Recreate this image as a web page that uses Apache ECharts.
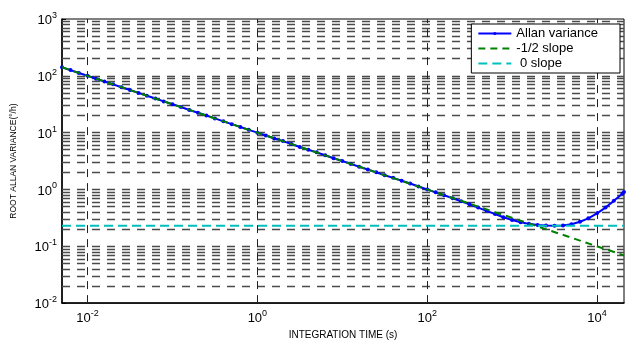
<!DOCTYPE html>
<html>
<head>
<meta charset="utf-8">
<script src="https://cdn.jsdelivr.net/npm/echarts@6/dist/echarts.min.js"></script>
<style>
  html, body { margin: 0; padding: 0; background: #fff; }
  #chart { width: 627px; height: 345px; }
</style>
</head>
<body>
<div id="chart"></div>
<script>
// Integration time (s) of each Allan variance estimate
const tauValues = [
  0.005, 0.0063, 0.0079, 0.01, 0.0126, 0.0158, 0.02, 0.0251, 0.0316, 0.0398,
  0.05, 0.063, 0.079, 0.1, 0.126, 0.158, 0.2, 0.251, 0.316, 0.398,
  0.5, 0.63, 0.79, 1, 1.26, 1.58, 2, 2.51, 3.16, 3.98,
  5, 6.3, 7.9, 10, 12.6, 15.8, 20, 25.1, 31.6, 39.8,
  50, 63, 79, 100, 126, 158, 200, 251, 316, 398,
  500, 630, 790, 1000, 1260, 1580, 2000, 2510, 3160, 3980,
  5000, 6300, 7900, 10000, 12600, 15800, 20000, 20800
];
// Root Allan variance (°/h)
const allanValues = [
  141, 126, 112, 100, 89, 79.4, 70.8, 63.1, 56.2, 50.1,
  44.7, 39.8, 35.5, 31.6, 28.2, 25.1, 22.4, 20.0, 17.8, 15.8,
  14.1, 12.6, 11.2, 10.0, 8.9, 7.9, 7.1, 6.3, 5.6, 5.0,
  4.5, 4.0, 3.55, 3.16, 2.82, 2.51, 2.24, 2.0, 1.78, 1.6,
  1.43, 1.27, 1.13, 1.0, 0.89, 0.79, 0.70, 0.62, 0.55, 0.48,
  0.42, 0.37, 0.325, 0.29, 0.265, 0.248, 0.238, 0.232, 0.230, 0.232,
  0.245, 0.27, 0.31, 0.38, 0.48, 0.63, 0.85, 0.9
];
// Reference slopes
const slopeTau = [0.005, 20800];
const halfSlopeValues = [141.4, 0.0693];
const zeroSlopeValues = [0.23, 0.23];

// Axis ticks and grid levels
const xTicks = [0.01, 1, 100, 10000];
const yMajor = [0.01, 0.1, 1, 10, 100, 1000];
const yMinor = [
  0.02, 0.03, 0.04, 0.05, 0.06, 0.07, 0.08, 0.09,
  0.2, 0.3, 0.4, 0.5, 0.6, 0.7, 0.8, 0.9,
  2, 3, 4, 5, 6, 7, 8, 9,
  20, 30, 40, 50, 60, 70, 80, 90,
  200, 300, 400, 500, 600, 700, 800, 900
];

const FONT = '"Liberation Sans", Arial, sans-serif';

function powerLabel(v) {
  const e = Math.round(Math.log10(v));
  return '{b|10}{s|' + e + '}';
}
const labelRich = {
  b: { fontSize: 13, fontFamily: FONT, color: '#000', verticalAlign: 'bottom', lineHeight: 16 },
  s: { fontSize: 9, fontFamily: FONT, color: '#000', verticalAlign: 'top', lineHeight: 10 }
};

const gridLineStyle = { color: '#4a4a4a', width: 1.4, type: [8, 7] };
const vLineStyle = { color: '#222', width: 1, type: [8, 6] };

const chart = echarts.init(document.getElementById('chart'), null, { renderer: 'canvas' });

chart.setOption({
  animation: false,
  backgroundColor: '#fff',
  grid: {
    left: 62, right: 3, top: 19, bottom: 33,
    show: true, borderColor: '#000', borderWidth: 1, backgroundColor: 'transparent'
  },
  legend: {
    orient: 'vertical',
    right: 7,
    top: 24,
    z: 10,
    padding: [2, 22, 2, 6],
    itemWidth: 33,
    itemHeight: 4,
    itemGap: 0,
    backgroundColor: '#fff',
    borderColor: '#000',
    borderWidth: 1,
    borderRadius: 0,
    textStyle: { fontFamily: FONT, fontSize: 13, color: '#000', lineHeight: 15 },
    data: [
      { name: 'Allan variance' },
      { name: '-1/2 slope', itemStyle: { opacity: 0 } },
      { name: ' 0 slope', itemStyle: { opacity: 0 } }
    ]
  },
  xAxis: {
    type: 'log',
    logBase: 10,
    min: 0.005,
    max: 20800,
    name: 'INTEGRATION TIME (s)',
    nameLocation: 'middle',
    nameGap: 22,
    nameTextStyle: { fontFamily: FONT, fontSize: 10, color: '#000' },
    axisLine: { show: true, lineStyle: { color: '#000', width: 1.5 } },
    axisTick: { show: true, inside: true, length: 4, customValues: xTicks, lineStyle: { color: '#000' } },
    axisLabel: { customValues: xTicks, margin: 6, formatter: powerLabel, rich: labelRich },
    splitLine: { show: false }
  },
  yAxis: {
    type: 'log',
    logBase: 10,
    min: 0.01,
    max: 1000,
    name: 'ROOT ALLAN VARIANCE(°/h)',
    nameLocation: 'middle',
    nameGap: 44,
    nameRotate: 90,
    nameTextStyle: { fontFamily: FONT, fontSize: 8.5, color: '#000' },
    axisLine: { show: true, lineStyle: { color: '#000', width: 1.5 } },
    axisTick: { show: true, inside: true, length: 4, lineStyle: { color: '#000' } },
    axisLabel: { margin: 5, formatter: powerLabel, rich: labelRich },
    splitLine: { show: false }
  },
  series: [
    {
      // grid lines drawn through the axes' own scales
      name: 'grid',
      type: 'line',
      data: [],
      silent: true,
      z: 1,
      markLine: {
        silent: true,
        z: 1,
        symbol: 'none',
        label: { show: false },
        emphasis: { disabled: true },
        animation: false,
        data: [
          ...yMinor.map(v => ({ yAxis: v, lineStyle: gridLineStyle })),
          ...yMajor.slice(1, -1).map(v => ({ yAxis: v, lineStyle: gridLineStyle })),
          ...xTicks.map(v => ({ xAxis: v, lineStyle: vLineStyle }))
        ]
      }
    },
    {
      name: 'Allan variance',
      type: 'line',
      data: tauValues.map((t, i) => [t, allanValues[i]]),
      color: '#0000ff',
      symbol: 'circle',
      symbolSize: 4,
      showSymbol: true,
      lineStyle: { color: '#0000ff', width: 2 },
      itemStyle: { color: '#0000ff' },
      z: 3
    },
    {
      name: '-1/2 slope',
      type: 'line',
      data: slopeTau.map((t, i) => [t, halfSlopeValues[i]]),
      color: '#008000',
      symbol: 'none',
      lineStyle: { color: '#008000', width: 2, type: [7, 5] },
      z: 4
    },
    {
      name: ' 0 slope',
      type: 'line',
      data: slopeTau.map((t, i) => [t, zeroSlopeValues[i]]),
      color: '#00bfbf',
      symbol: 'none',
      lineStyle: { color: '#00bfbf', width: 2, type: [9, 5] },
      z: 4
    }
  ]
});
</script>
</body>
</html>
